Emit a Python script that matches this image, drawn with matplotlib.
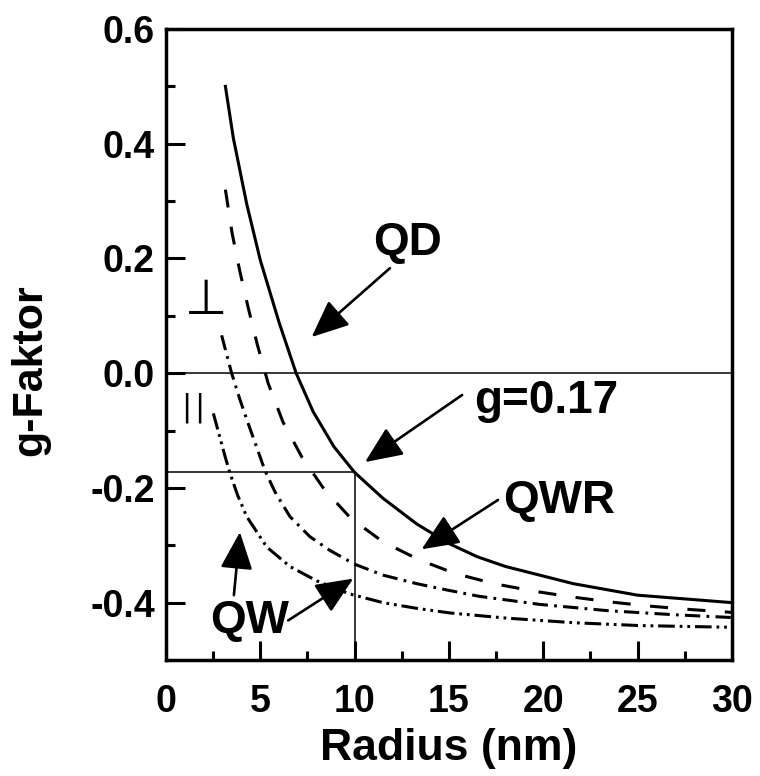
import matplotlib
matplotlib.use("Agg")
import matplotlib.pyplot as plt
from matplotlib.ticker import MultipleLocator

plt.rcParams['font.family'] = ['Liberation Sans', 'DejaVu Sans']
plt.rcParams['axes.unicode_minus'] = False
plt.rcParams['lines.scale_dashes'] = False

# ---- data ----
qd_r = [3.15, 3.57, 4.28, 5.0, 6.0, 6.9, 7.8, 8.9, 10.0, 11.5, 13.3, 15.0, 16.5, 18.0, 21.6, 25.0, 30.0]
qd_g = [0.50, 0.41, 0.295, 0.197, 0.088, 0.0, -0.067, -0.128, -0.173, -0.218, -0.263, -0.297, -0.320, -0.337, -0.367, -0.387, -0.400]

qwr_r = [3.15, 3.5, 3.9, 4.36, 4.84, 5.42, 6.2, 7.2, 8.4, 9.8, 11.5, 13.4, 15.3, 17.4, 19.5, 21.5, 23.6, 25.6, 27.8, 30.0]
qwr_g = [0.32, 0.245, 0.18, 0.114, 0.050, -0.018, -0.085, -0.146, -0.203, -0.253, -0.294, -0.325, -0.349, -0.367, -0.380, -0.390, -0.399, -0.406, -0.412, -0.417]

qw_perp_r = [2.95, 3.48, 3.92, 4.36, 4.85, 5.25, 5.78, 6.57, 7.63, 8.69, 10.0, 11.5, 13.3, 14.9, 16.6, 19.8, 23.4, 26.9, 30.0]
qw_perp_g = [0.066, 0.0, -0.046, -0.088, -0.133, -0.170, -0.207, -0.250, -0.285, -0.309, -0.333, -0.352, -0.367, -0.378, -0.389, -0.403, -0.414, -0.421, -0.426]

qw_par_r = [2.51, 2.86, 3.13, 3.39, 3.8, 4.28, 5.34, 6.57, 7.99, 9.75, 11.5, 13.3, 15.05, 18.05, 21.6, 25.1, 30.0]
qw_par_g = [-0.070, -0.112, -0.145, -0.174, -0.213, -0.250, -0.303, -0.337, -0.362, -0.385, -0.400, -0.410, -0.418, -0.427, -0.435, -0.440, -0.443]

g_mark = -0.173
r_mark = 10.0

x_ticks = [0, 5, 10, 15, 20, 25, 30]
y_ticks = [-0.4, -0.2, 0.0, 0.2, 0.4, 0.6]

# ---- figure ----
fig = plt.figure(figsize=(7.6, 7.76), dpi=100)
ax = fig.add_axes([0.2184, 0.1495, 0.963 - 0.2184, 0.9626 - 0.1495])
ax.set_xlim(0, 30)
ax.set_ylim(-0.5, 0.6)

ax.plot(qd_r, qd_g, color='black', lw=2.2, solid_joinstyle='round')
ax.plot(qwr_r, qwr_g, color='black', lw=2.2, dashes=(13, 14))
ax.plot(qw_perp_r, qw_perp_g, color='black', lw=2.2, dashes=(11, 4.5, 2, 4.5))
ax.plot(qw_par_r, qw_par_g, color='black', lw=2.2, dashes=(12, 3.5, 2, 3.5, 2, 3.5))

# reference lines
ax.axhline(0.0, color='black', lw=1.1)
ax.plot([0, r_mark], [g_mark, g_mark], color='black', lw=1.1)
ax.plot([r_mark, r_mark], [g_mark, -0.5], color='black', lw=1.1)

# annotations
txt_kw = dict(fontsize=33, fontweight='bold', ha='center', va='baseline')
ax.text(12.8, 0.206, 'QD', **txt_kw)
ax.text(20.16, -0.0697, 'g=0.17', **txt_kw)
ax.text(20.83, -0.244, 'QWR', **txt_kw)
ax.text(4.41, -0.453, 'QW', **txt_kw)

arrow_kw = dict(arrowstyle='-|>,head_length=1.15,head_width=0.5', color='black',
                lw=1.9, shrinkA=0, shrinkB=0, mutation_scale=20)
ax.annotate('', xy=(7.72, 0.063), xytext=(11.87, 0.183), arrowprops=arrow_kw)
ax.annotate('', xy=(10.55, -0.155), xytext=(15.7, -0.038), arrowprops=arrow_kw)
ax.annotate('', xy=(13.55, -0.307), xytext=(17.6, -0.221), arrowprops=arrow_kw)
ax.annotate('', xy=(3.92, -0.277), xytext=(3.6, -0.387), arrowprops=arrow_kw)
ax.annotate('', xy=(9.93, -0.358), xytext=(6.48, -0.431), arrowprops=arrow_kw)

# perpendicular / parallel symbols
ax.text(2.12, 0.104, '\u22A5', fontsize=35, family='DejaVu Sans', ha='center', va='baseline')
ax.text(1.06, -0.061, '|', fontsize=22, family='DejaVu Sans', ha='center', va='center')
ax.text(1.75, -0.061, '|', fontsize=22, family='DejaVu Sans', ha='center', va='center')

# axes styling
ax.set_xticks(x_ticks)
ax.set_xticklabels([str(v) for v in x_ticks])
ax.set_yticks(y_ticks)
ax.set_yticklabels(['%.1f' % v for v in y_ticks])
ax.xaxis.set_minor_locator(MultipleLocator(2.5))
ax.yaxis.set_minor_locator(MultipleLocator(0.1))
ax.tick_params(which='both', direction='in', top=False, right=False, width=2.2)
ax.tick_params(which='major', length=13.7)
ax.tick_params(which='minor', length=6.5)
ax.tick_params(axis='x', which='major', pad=17, labelsize=27)
ax.tick_params(axis='y', which='major', pad=8, labelsize=27)
for lab in ax.get_xticklabels() + ax.get_yticklabels():
    lab.set_fontweight('bold')
for sp in ax.spines.values():
    sp.set_linewidth(2.5)

ax.set_xlabel('Radius (nm)', fontsize=32, fontweight='bold')
ax.set_ylabel('g-Faktor', fontsize=31, fontweight='bold')
ax.xaxis.set_label_coords(0.5, -0.108)
ax.yaxis.set_label_coords(-0.205, 0.46)

fig.savefig('out.png', dpi=100)
